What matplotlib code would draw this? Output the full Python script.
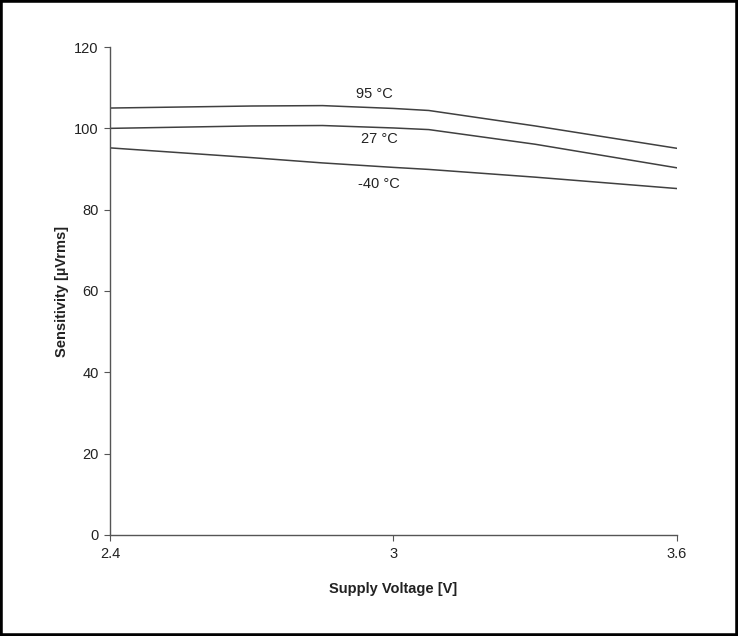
import matplotlib
matplotlib.use('Agg')
from matplotlib import pyplot as plt
from matplotlib.patches import Rectangle

plt.rcParams['font.family'] = ['Liberation Sans', 'DejaVu Sans']

voltage = [2.4, 2.7, 2.85, 3.0, 3.075, 3.3, 3.6]
sens_95 = [105.0, 105.5, 105.6, 104.9, 104.4, 100.6, 95.1]
sens_27 = [100.0, 100.6, 100.7, 100.1, 99.7, 96.1, 90.3]
sens_m40 = [95.2, 92.8, 91.5, 90.4, 89.9, 88.0, 85.2]

labels = ['95 \u00b0C', '27 \u00b0C', '-40 \u00b0C']
label_xy = [(2.96, 108.5), (2.97, 97.3), (2.97, 86.3)]

fig = plt.figure(figsize=(7.38, 6.36), dpi=100)
ax = fig.add_axes([0.149, 0.159, 0.768, 0.767])

for s in (sens_95, sens_27, sens_m40):
    ax.plot(voltage, s, color='#404040', linewidth=1.1)

for txt, (x, y) in zip(labels, label_xy):
    ax.text(x, y, txt, fontsize=10.5, ha='center', va='center', color='#222222')

ax.set_xlim(2.4, 3.6)
ax.set_ylim(0, 120)
ax.set_xticks([2.4, 3.0, 3.6])
ax.set_xticklabels(['2.4', '3', '3.6'])
ax.set_yticks(range(0, 121, 20))
for sp in ('top', 'right'):
    ax.spines[sp].set_visible(False)
for sp in ('left', 'bottom'):
    ax.spines[sp].set_color('#555555')
    ax.spines[sp].set_linewidth(1)
ax.tick_params(direction='out', length=4, color='#555555', labelsize=10.5, labelcolor='#222222')
ax.tick_params(axis='x', pad=5)
ax.tick_params(axis='y', pad=4)
ax.set_xlabel('Supply Voltage [V]', fontsize=10.5, fontweight='bold', labelpad=15, color='#222222')
ax.set_ylabel('Sensitivity [\u00b5Vrms]', fontsize=10.5, fontweight='bold', labelpad=4, color='#222222')

fig.patches.append(Rectangle((0, 0), 1, 1, transform=fig.transFigure,
                             fill=False, edgecolor='black', linewidth=4))

fig.savefig('out.png', dpi=100)
